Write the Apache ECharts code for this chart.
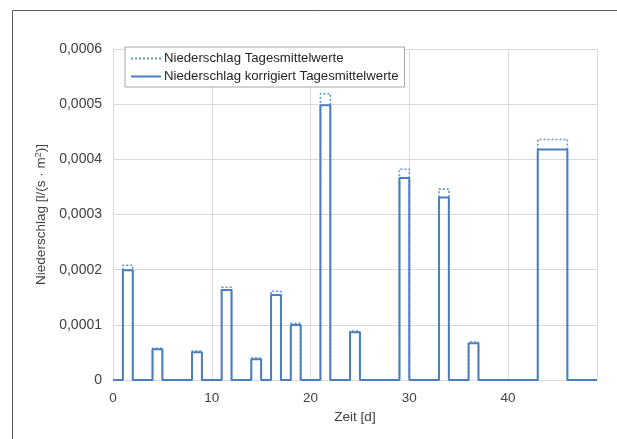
<!DOCTYPE html>
<html>
<head>
<meta charset="utf-8">
<script src="https://cdn.jsdelivr.net/npm/echarts@6/dist/echarts.min.js"></script>
<style>
  html, body { margin: 0; padding: 0; background: #fff; }
  #chart { width: 617px; height: 439px; }
</style>
</head>
<body>
<div id="chart"></div>
<script>
// Regenereignisse: Beginn und Ende (Tag) jedes Niederschlagsblocks
const beginn = [1, 4, 8, 11, 14, 16, 18, 21, 24, 29, 33, 36, 43];
const ende   = [2, 5, 9, 12, 15, 17, 19, 22, 25, 30, 34, 37, 46];
// Tagesmittelwerte in l/(s·m²)
const niederschlag = [0.000208, 0.0000574, 0.0000525, 0.000168, 0.0000398, 0.000161, 0.000103,
                      0.000519, 0.0000888, 0.000382, 0.000346, 0.0000688, 0.000436];
const korrigiert   = [0.000199, 0.0000556, 0.0000501, 0.000163, 0.0000375, 0.000154, 0.0000996,
                      0.000498, 0.0000864, 0.000366, 0.000331, 0.0000665, 0.000418];
const xMax = 49;
const yTicks = ['0', '0,0001', '0,0002', '0,0003', '0,0004', '0,0005', '0,0006'];

// Tageswerte 0..xMax aus den Blöcken zusammensetzen (Treppenlinie)
function tagesreihe(werte) {
  const out = [];
  for (let d = 0; d <= xMax; d++) {
    let v = 0;
    for (let i = 0; i < beginn.length; i++) {
      if (d >= beginn[i] && d < ende[i]) v = werte[i];
    }
    out.push([d, v]);
  }
  return out;
}

const chart = echarts.init(document.getElementById('chart'), null, { renderer: 'canvas' });
const font = 'Liberation Sans, Arial, sans-serif';
const fs = 13.5;

chart.setOption({
  animation: false,
  backgroundColor: '#fff',
  textStyle: { fontFamily: font },
  graphic: [{
    type: 'rect',
    shape: { x: 12.5, y: 10.5, width: 700, height: 500 },
    style: { fill: 'none', stroke: '#595959', lineWidth: 1 },
    silent: true, z: -1
  }],
  grid: { left: 113, right: 20, top: 49, bottom: 59 },
  legend: {
    left: 125, top: 47, orient: 'vertical',
    itemWidth: 30, itemHeight: 8, itemGap: 5,
    padding: [5, 6, 4, 5],
    borderColor: '#a6a6a6', borderWidth: 1, backgroundColor: '#fff',
    itemStyle: { opacity: 0 },
    textStyle: { fontFamily: font, fontSize: 13.2, color: '#262626', padding: [0, 0, 0, -2] },
    data: ['Niederschlag Tagesmittelwerte', 'Niederschlag korrigiert Tagesmittelwerte']
  },
  xAxis: {
    type: 'value', min: 0, max: xMax, interval: 10,
    name: 'Zeit [d]', nameLocation: 'middle', nameGap: 25,
    nameTextStyle: { fontFamily: font, fontSize: fs, color: '#404040' },
    axisLine: { show: true, lineStyle: { color: '#d9d9d9', width: 1 } },
    axisTick: { show: false },
    axisLabel: { fontFamily: font, fontSize: fs, color: '#404040', margin: 11,
                 showMaxLabel: false },
    splitLine: { show: true, lineStyle: { color: '#d9d9d9', width: 1 } }
  },
  yAxis: {
    type: 'value', min: 0, max: 0.0006, interval: 0.0001,
    name: '{a|Niederschlag [l/(s · m}{s|2}{a|)]}', nameLocation: 'middle', nameGap: 59,
    nameRotate: 90,
    nameTextStyle: {
      rich: {
        a: { fontFamily: font, fontSize: fs, color: '#404040' },
        s: { fontFamily: font, fontSize: 9, color: '#404040', verticalAlign: 'top', padding: [0, 0, 6, 0] }
      }
    },
    axisLine: { show: true, lineStyle: { color: '#d9d9d9', width: 1 } },
    axisTick: { show: false },
    axisLabel: {
      fontFamily: font, fontSize: 14, color: '#404040', margin: 11,
      formatter: function (v) { return yTicks[Math.round(v / 0.0001)]; }
    },
    splitLine: { show: true, lineStyle: { color: '#d9d9d9', width: 1 } }
  },
  series: [
    {
      name: 'Niederschlag Tagesmittelwerte',
      type: 'line', step: 'end', symbol: 'none',
      data: tagesreihe(niederschlag),
      lineStyle: { color: '#5b95d8', width: 1.6, type: [2, 2] },
      itemStyle: { color: '#5b95d8' },
      z: 2
    },
    {
      name: 'Niederschlag korrigiert Tagesmittelwerte',
      type: 'line', step: 'end', symbol: 'none',
      data: tagesreihe(korrigiert),
      lineStyle: { color: '#4a7ebf', width: 2 },
      itemStyle: { color: '#4a7ebf' },
      z: 3
    }
  ]
});
</script>
</body>
</html>
